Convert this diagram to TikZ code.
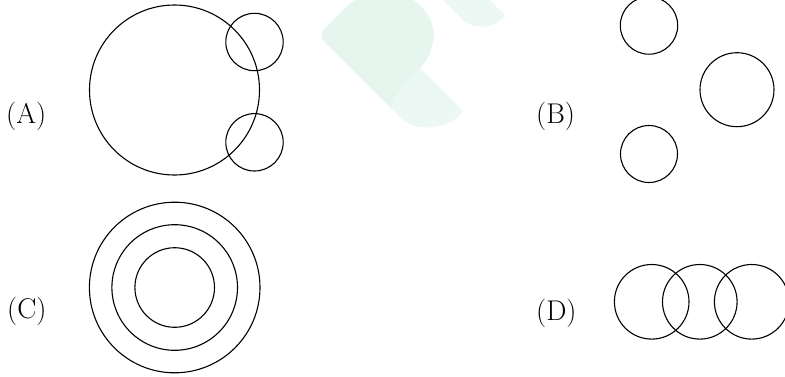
\documentclass[tikz,border=0pt]{standalone}
\definecolor{wmA}{HTML}{E7F5EF}
\definecolor{wmB}{HTML}{ECF8F4}
\tikzset{
  ring/.style={draw=black, line width=1.1pt},
  lbl/.style={anchor=base west, inner sep=0pt, font=\fontsize{28.5}{34}\selectfont}
}
\begin{document}
\begin{tikzpicture}[x=1pt, y=-1pt]
\clip (0,0) rectangle (785,376);
% watermark
\fill[wmA] (410,-2) .. controls (428,8) and (437,28) .. (433,42) .. controls (431,54) and (426,62) .. (420,68) -- (463,111) .. controls (452,127) and (420,134) .. (402,119) [rounded corners=9pt] -- (318,35) -- (355,-2) [sharp corners] -- cycle;
\fill[wmB] (420,68) -- (463,111) .. controls (452,127) and (420,134) .. (402,119) -- (391,107) .. controls (396,94) and (408,78) .. (420,68) -- cycle;
\fill[wmB] (441,-2) -- (463,20) .. controls (472,29) and (495,30) .. (505,15) -- (488,-2) -- cycle;
% (A)
\draw[ring] (174.5,90) circle[radius=85];
\draw[ring] (254.5,42) circle[radius=28.7];
\draw[ring] (254.5,142.3) circle[radius=28.7];
\node[lbl] (la) at (6,123) {(A)};
% (B)
\draw[ring] (649,25.5) circle[radius=28.7];
\draw[ring] (737,89.7) circle[radius=37];
\draw[ring] (649,154) circle[radius=28.5];
\node[lbl] (lb) at (536,123) {(B)};
% (C)
\draw[ring] (174.7,287.5) circle[radius=85.3];
\draw[ring] (174.7,287.5) circle[radius=62.8];
\draw[ring] (174.7,287.5) circle[radius=39.8];
\node[lbl] (lc) at (7,318) {(C)};
% (D)
\draw[ring] (651.7,301.8) circle[radius=37.3];
\draw[ring] (699.8,301.8) circle[radius=37.3];
\draw[ring] (751.7,301.8) circle[radius=37.3];
\node[lbl] (ld) at (536,320) {(D)};
\end{tikzpicture}
\end{document}
